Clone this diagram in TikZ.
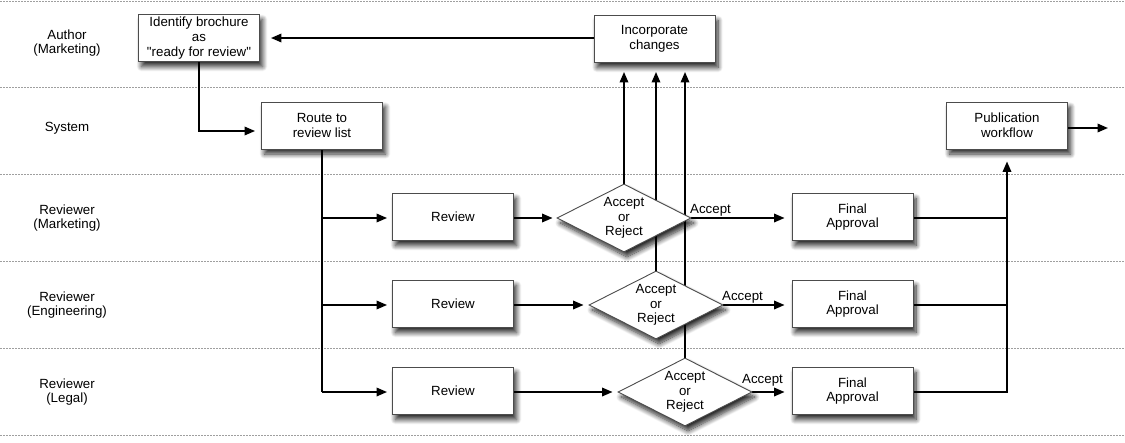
\documentclass[tikz,border=0pt]{standalone}
\usepackage{fontspec}
\setmainfont{Liberation Sans}[Ligatures=TeXOff]
\usetikzlibrary{shapes.geometric,arrows.meta,shadows.blur,backgrounds}
\begin{document}
\begin{tikzpicture}[x=1pt,y=-1pt,
  font=\fontsize{13.3}{14.6}\selectfont,
  lane/.style={draw=gray!75, line width=0.6pt, dash pattern=on 2pt off 1pt},
  lanelabel/.style={align=center, inner sep=0pt},
  shad/.style={blur shadow={shadow xshift=3pt, shadow yshift=-5pt, shadow opacity=85, shadow blur steps=10, shadow blur radius=5pt}},
  box/.style={draw=black!70, line width=0.9pt, fill=white, minimum width=121pt, minimum height=47pt, align=center, inner sep=2pt, shad},
  dec/.style={diamond, draw=black!70, line width=0.9pt, fill=white, minimum width=134pt, minimum height=68pt, inner sep=0pt, shad},
  arr/.style={line width=1.8pt, -{Triangle[length=10.5pt,width=8.5pt]}},
  ln/.style={line width=1.8pt},
  acc/.style={anchor=base west, inner sep=0pt}
]
\useasboundingbox (0,0) rectangle (1125,442);

% lane labels
\node[lanelabel] (lA) at (67,43) {Author\\(Marketing)};
\node[lanelabel] (lS) at (67,128) {System};
\node[lanelabel] (lR1) at (67,218) {Reviewer\\(Marketing)};
\node[lanelabel] (lR2) at (67,305) {Reviewer\\(Engineering)};
\node[lanelabel] (lR3) at (67,392) {Reviewer\\(Legal)};

% boxes
\node[box] (ident) at (199,38) {Identify brochure\\as\\"ready for review"};
\node[box] (incorp) at (654.5,39) {Incorporate\\changes};
\node[box] (route) at (322,125.5) {Route to\\review list};
\node[box] (pub) at (1007,125.5) {Publication\\workflow};
\node[box] (rev1) at (453,217) {Review};
\node[box] (rev2) at (453,304) {Review};
\node[box] (rev3) at (453,391) {Review};
\node[dec, label={[align=center, inner sep=0pt]center:Accept\\or\\Reject}] (d1) at (624,218) {};
\node[dec, label={[align=center, inner sep=0pt]center:Accept\\or\\Reject}] (d2) at (656,305) {};
\node[dec, label={[align=center, inner sep=0pt]center:Accept\\or\\Reject}] (d3) at (685,392) {};
\node[box] (fin1) at (852.5,217) {Final\\Approval};
\node[box] (fin2) at (852.5,304) {Final\\Approval};
\node[box] (fin3) at (852.5,391) {Final\\Approval};

\node[acc] (a1) at (690,213.5) {Accept};
\node[acc] (a2) at (722,300) {Accept};
\node[acc] (a3) at (742,383) {Accept};

\coordinate (pubout) at (1108,128);

\begin{pgfonlayer}{background}
  \foreach \yy in {1,87,174,261,348,435}
    \draw[lane] (0,\yy) -- (1125,\yy);

  \draw[arr, shorten >=11pt] (incorp.west |- 0,38) -- (ident.east |- 0,38);
  \draw[arr, shorten >=6pt] (ident.south) |- (route.west |- 0,131);
  \draw[ln] (route.south) -- (route.south |- d3.west);
  \draw[arr, shorten >=5pt] (route.south |- d1.west) -- (rev1.west |- d1.west);
  \draw[arr, shorten >=5pt] (route.south |- d2.west) -- (rev2.west |- d2.west);
  \draw[arr, shorten >=5pt] (route.south |- d3.west) -- (rev3.west |- d3.west);

  \draw[arr, shorten >=4pt] (rev1.east |- d1.west) -- (d1.west);
  \draw[arr, shorten >=5pt] (rev2.east |- d2.west) -- (d2.west);
  \draw[arr, shorten >=5pt] (rev3.east |- d3.west) -- (d3.west);

  \draw[arr, shorten >=9pt] (d1.north) -- (d1.north |- incorp.south);
  \draw[arr, shorten >=9pt] (d2.north) -- (d2.north |- incorp.south);
  \draw[arr, shorten >=9pt] (d3.north) -- (d3.north |- incorp.south);

  \draw[arr, shorten >=7pt] (d1.east) -- (d1.east -| fin1.west);
  \draw[arr, shorten >=7pt] (d2.east) -- (d2.east -| fin2.west);
  \draw[arr, shorten >=7pt] (d3.east) -- (d3.east -| fin3.west);

  \draw[ln] (fin1.east |- d1.east) -- (pub.south |- d1.east);
  \draw[ln] (fin2.east |- d2.east) -- (pub.south |- d2.east);
  \draw[arr, shorten >=12pt] (fin3.east |- d3.east) -| (pub.south);
  \draw[arr] (pub.east |- pubout) -- (pubout);
\end{pgfonlayer}
\end{tikzpicture}
\end{document}
